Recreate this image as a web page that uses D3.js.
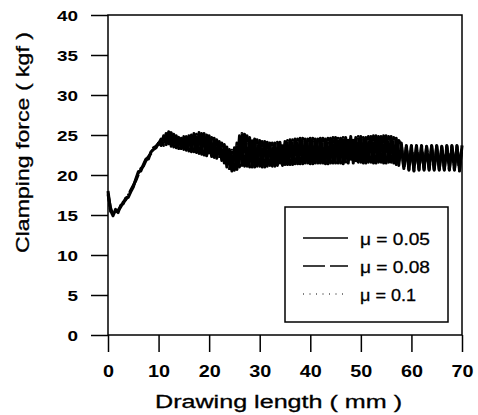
<!DOCTYPE html>
<html>
<head>
<meta charset="utf-8">
<script src="https://cdn.jsdelivr.net/npm/d3@7/dist/d3.min.js"></script>
<style>
  html, body { margin: 0; padding: 0; background: #fff; }
  svg { display: block; }
  text { font-family: "Liberation Sans", Arial, sans-serif; fill: #000; }
</style>
</head>
<body>
<svg id="chart" width="478" height="415"></svg>
<script>
// Drawing length samples (mm)
const lengths = [
  0, 0.5, 1, 1.5, 2, 2.5, 3, 3.5, 4, 4.5,
  5, 5.5, 6, 6.5, 7, 7.5, 8, 8.5, 9, 9.5,
  10, 10.5, 11, 11.5, 12, 12.5, 13, 13.5, 14, 14.5,
  15, 15.5, 16, 16.5, 17, 17.5, 18, 18.5, 19, 19.5,
  20, 20.5, 21, 21.5, 22, 22.5, 23, 23.5, 24, 24.5,
  25, 25.5, 26, 26.5, 27, 27.5, 28, 28.5, 29, 29.5,
  30, 30.5, 31, 31.5, 32, 32.5, 33, 33.5, 34, 34.5,
  35, 35.5, 36, 36.5, 37, 37.5, 38, 38.5, 39, 39.5,
  40, 40.5, 41, 41.5, 42, 42.5, 43, 43.5, 44, 44.5,
  45, 45.5, 46, 46.5, 47, 47.5, 48, 48.5, 49, 49.5,
  50, 50.5, 51, 51.5, 52, 52.5, 53, 53.5, 54, 54.5,
  55, 55.5, 56, 56.5, 57, 57.5, 58, 58.5, 59, 59.5,
  60, 60.5, 61, 61.5, 62, 62.5, 63, 63.5, 64, 64.5,
  65, 65.5, 66, 66.5, 67, 67.5, 68, 68.5, 69, 69.5,
  70
];

// Clamping force (kgf), friction coefficient 0.05
const force005 = [
  18.0, 15.6, 14.9, 15.7, 15.3, 16.2, 16.4, 17.1, 17.2, 17.9,
  18.5, 19.5, 20.4, 20.5, 21.3, 22.0, 22.0, 22.9, 23.2, 23.4,
  24.0, 23.7, 24.9, 23.8, 25.4, 23.6, 25.1, 23.4, 24.7, 23.3,
  24.8, 23.1, 24.9, 22.9, 25.2, 22.8, 25.3, 22.6, 25.2, 22.4,
  24.9, 22.3, 24.6, 22.1, 24.2, 21.8, 23.8, 21.0, 23.2, 20.5,
  23.4, 20.7, 24.9, 21.2, 25.1, 21.1, 24.7, 21.0, 24.5, 21.1,
  24.3, 21.0, 24.2, 21.1, 24.0, 21.1, 24.0, 21.2, 24.1, 21.2,
  24.2, 21.3, 24.4, 21.3, 24.5, 21.4, 24.6, 21.4, 24.5, 21.5,
  24.6, 21.4, 24.5, 21.5, 24.6, 21.5, 24.5, 21.4, 24.6, 21.5,
  24.7, 21.5, 24.6, 21.4, 24.7, 21.5, 24.8, 21.5, 24.7, 21.6,
  24.8, 21.5, 24.7, 21.6, 24.8, 21.5, 24.9, 21.6, 24.8, 21.5,
  24.9, 21.6, 24.8, 21.5, 24.6, 21.2, 24.0, 20.8, 23.7, 20.6,
  23.6, 20.6, 23.7, 20.7, 23.6, 20.6, 23.6, 20.7, 23.7, 20.6,
  23.6, 20.7, 23.6, 20.6, 23.7, 20.7, 23.6, 20.6, 23.7, 20.6,
  23.6
];

// Clamping force (kgf), friction coefficient 0.08
const force008 = [
  17.6, 15.9, 15.0, 15.4, 15.6, 16.0, 16.6, 16.9, 17.4, 18.1,
  18.7, 19.3, 20.1, 20.8, 21.1, 21.8, 22.3, 22.7, 23.4, 23.6,
  23.9, 24.5, 23.7, 25.2, 23.9, 25.3, 23.5, 24.9, 23.3, 24.6,
  23.2, 24.8, 23.0, 25.0, 22.9, 25.1, 22.7, 25.2, 22.5, 25.0,
  22.3, 24.7, 22.2, 24.4, 22.0, 24.0, 21.5, 23.5, 20.6, 23.1,
  20.6, 24.0, 21.0, 25.2, 21.1, 24.9, 21.0, 24.6, 21.0, 24.4,
  21.1, 24.2, 21.0, 24.1, 21.2, 24.0, 21.1, 24.1, 21.2, 24.1,
  21.3, 24.3, 21.3, 24.4, 21.4, 24.5, 21.4, 24.6, 21.5, 24.5,
  21.4, 24.6, 21.5, 24.5, 21.5, 24.6, 21.4, 24.6, 21.5, 24.7,
  21.5, 24.6, 21.5, 24.7, 21.4, 24.8, 21.6, 24.7, 21.5, 24.8,
  21.6, 24.7, 21.5, 24.8, 21.6, 24.9, 21.5, 24.8, 21.6, 24.9,
  21.5, 24.8, 21.6, 24.7, 21.3, 24.3, 23.8, 20.7, 23.6, 20.7,
  23.7, 20.5, 23.6, 20.6, 23.7, 20.7, 23.5, 20.6, 23.6, 20.7,
  23.7, 20.6, 23.5, 20.7, 23.6, 20.6, 23.7, 20.7, 23.6, 20.5,
  23.7
];

// Clamping force (kgf), friction coefficient 0.1
const force010 = [
  17.8, 15.3, 15.1, 15.5, 15.5, 16.1, 16.5, 17.0, 17.5, 18.0,
  18.6, 19.4, 20.2, 20.7, 21.2, 21.9, 22.2, 22.8, 23.3, 23.5,
  24.1, 23.9, 24.6, 24.0, 25.1, 23.8, 24.9, 23.6, 24.5, 23.5,
  24.6, 23.3, 24.7, 23.1, 24.9, 23.0, 25.0, 22.8, 24.9, 22.6,
  24.6, 22.5, 24.3, 22.3, 23.9, 22.0, 23.5, 21.3, 22.9, 20.8,
  23.1, 21.0, 24.6, 21.5, 24.8, 21.4, 24.4, 21.3, 24.2, 21.4,
  24.0, 21.3, 23.9, 21.4, 23.8, 21.4, 23.7, 21.5, 23.8, 21.5,
  23.9, 21.6, 24.1, 21.6, 24.2, 21.7, 24.3, 21.7, 24.2, 21.8,
  24.3, 21.7, 24.2, 21.8, 24.3, 21.8, 24.2, 21.7, 24.3, 21.8,
  24.4, 21.8, 24.3, 21.7, 24.4, 21.8, 24.5, 21.8, 24.4, 21.9,
  24.5, 21.8, 24.4, 21.9, 24.5, 21.8, 24.6, 21.9, 24.5, 21.8,
  24.6, 21.9, 24.5, 21.8, 24.3, 21.5, 23.7, 21.0, 23.4, 20.9,
  23.4, 20.9, 23.5, 20.9, 23.4, 20.9, 23.4, 20.9, 23.5, 20.9,
  23.4, 20.9, 23.4, 20.9, 23.5, 20.9, 23.4, 20.9, 23.5, 20.9,
  23.4
];

const seriesLabels = ["\u03bc = 0.05", "\u03bc = 0.08", "\u03bc = 0.1"];
const xTicks = [0, 10, 20, 30, 40, 50, 60, 70];
const yTicks = [0, 5, 10, 15, 20, 25, 30, 35, 40];

const svg = d3.select("#chart");
const margin = { left: 108, right: 16, top: 15, bottom: 80 };
const W = 478, H = 415;
const innerW = W - margin.left - margin.right;
const innerH = H - margin.top - margin.bottom;

const x = d3.scaleLinear().domain([0, 70]).range([0, innerW]);
const y = d3.scaleLinear().domain([0, 40]).range([innerH, 0]);

const g = svg.append("g").attr("transform", `translate(${margin.left},${margin.top})`);

// frame
g.append("rect")
  .attr("x", 0).attr("y", 0)
  .attr("width", innerW).attr("height", innerH)
  .attr("fill", "none").attr("stroke", "#000").attr("stroke-width", 1.5);

// widen tick labels to the face used on the plot
function stretchLabels(sel, perChar) {
  sel.selectAll(".tick text").each(function () {
    const t = d3.select(this);
    t.attr("textLength", t.text().length * perChar).attr("lengthAdjust", "spacingAndGlyphs");
  });
}

const xAxis = g.append("g")
  .attr("transform", `translate(0,${innerH})`)
  .call(d3.axisBottom(x).tickValues(xTicks).tickSize(17).tickPadding(14).tickFormat(d3.format("d")));
xAxis.select(".domain").remove();
xAxis.selectAll(".tick line").attr("stroke-width", 1.5);
xAxis.selectAll(".tick text")
  .style("font-size", "16px").style("font-weight", "bold");
stretchLabels(xAxis, 11);

const yAxis = g.append("g")
  .call(d3.axisLeft(y).tickValues(yTicks).tickSize(17).tickPadding(13).tickFormat(d3.format("d")));
yAxis.select(".domain").remove();
yAxis.selectAll(".tick line").attr("stroke-width", 1.5);
yAxis.selectAll(".tick text")
  .style("font-size", "15px").style("font-weight", "bold")
  .attr("dy", "0.36em");
stretchLabels(yAxis, 10.5);

// curves
const seriesData = [force005, force008, force010];
const dashes = [null, "20,5", "2,1"];
const widths = [3, 3, 2.4];
const line = d3.line()
  .x((d, i) => x(lengths[i]))
  .y(d => y(d));

seriesData.forEach((vals, k) => {
  g.append("path")
    .datum(vals)
    .attr("d", line)
    .attr("fill", "none")
    .attr("stroke", "#000")
    .attr("stroke-width", widths[k])
    .attr("stroke-linejoin", "round")
    .attr("stroke-dasharray", dashes[k]);
});

// legend
const legend = svg.append("g").attr("transform", "translate(285,207)");
legend.append("rect")
  .attr("x", 0).attr("y", 0).attr("width", 163).attr("height", 115)
  .attr("fill", "#fff").attr("stroke", "#000").attr("stroke-width", 1.5);
const rowY = [31, 59, 87];
seriesLabels.forEach((lab, k) => {
  legend.append("line")
    .attr("x1", 18).attr("x2", 63)
    .attr("y1", rowY[k]).attr("y2", rowY[k])
    .attr("stroke", "#000")
    .attr("stroke-width", k === 2 ? 1 : 1.3)
    .attr("stroke-dasharray", k === 1 ? "22,5" : (k === 2 ? "1,5.5" : null));
  legend.append("text")
    .attr("x", 75).attr("y", rowY[k] + 7)
    .attr("textLength", k === 2 ? 56 : 70).attr("lengthAdjust", "spacingAndGlyphs")
    .style("font-size", "17px")
    .style("stroke", "#000").style("stroke-width", 0.3)
    .text(lab);
});

// axis titles
svg.append("text")
  .attr("x", 155).attr("y", 408)
  .attr("textLength", 247).attr("lengthAdjust", "spacingAndGlyphs")
  .style("font-size", "18px")
  .style("stroke", "#000").style("stroke-width", 0.3)
  .text("Drawing length ( mm )");

svg.append("text")
  .attr("transform", "translate(29,253) rotate(-90)")
  .attr("textLength", 221).attr("lengthAdjust", "spacingAndGlyphs")
  .style("font-size", "18px")
  .style("stroke", "#000").style("stroke-width", 0.3)
  .text("Clamping force ( kgf )");
</script>
</body>
</html>
